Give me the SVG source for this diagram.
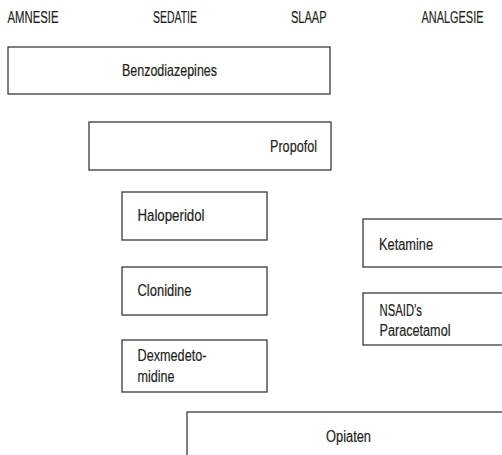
<svg xmlns="http://www.w3.org/2000/svg" width="502" height="455" viewBox="0 0 502 455">
<style>
text{font-family:"Liberation Sans",Arial,sans-serif;font-size:16px;fill:#231f20;stroke:#231f20;stroke-width:0.2}
.box{fill:#fff;stroke:#3a3a3a;stroke-width:1.3}
</style>
<rect width="502" height="455" fill="#fff"/>
<g id="headers">
<text x="7.5" y="22.5" textLength="51" lengthAdjust="spacingAndGlyphs">AMNESIE</text>
<text x="153" y="22.5" textLength="44" lengthAdjust="spacingAndGlyphs">SEDATIE</text>
<text x="291" y="22.5" textLength="35.5" lengthAdjust="spacingAndGlyphs">SLAAP</text>
<text transform="translate(421.5 22.5) scale(0.684 1)" x="0" y="0">ANALGESIE</text>
</g>
<g id="benzodiazepines"><rect class="box" x="8" y="47" width="322" height="47"/><text x="122" y="75.5" textLength="95" lengthAdjust="spacingAndGlyphs">Benzodiazepines</text></g>
<g id="propofol"><rect class="box" x="89" y="122" width="242" height="48"/><text x="270" y="152" textLength="47" lengthAdjust="spacingAndGlyphs">Propofol</text></g>
<g id="haloperidol"><rect class="box" x="122" y="192" width="145" height="48"/><text x="137.5" y="221" textLength="67" lengthAdjust="spacingAndGlyphs">Haloperidol</text></g>
<g id="clonidine"><rect class="box" x="122" y="267" width="145" height="48"/><text x="137.5" y="296" textLength="54" lengthAdjust="spacingAndGlyphs">Clonidine</text></g>
<g id="dexmedetomidine"><rect class="box" x="122" y="340" width="145" height="52"/><text x="137.5" y="361" textLength="69" lengthAdjust="spacingAndGlyphs">Dexmedeto-</text><text x="137.5" y="382" textLength="37" lengthAdjust="spacingAndGlyphs">midine</text></g>
<g id="ketamine"><rect class="box" x="363" y="219" width="145" height="48"/><text x="379" y="250" textLength="54" lengthAdjust="spacingAndGlyphs">Ketamine</text></g>
<g id="nsaids"><rect class="box" x="363" y="293" width="145" height="52"/><text x="379.5" y="315.5" textLength="42.5" lengthAdjust="spacingAndGlyphs">NSAID’s</text><text x="379.5" y="336" textLength="71" lengthAdjust="spacingAndGlyphs">Paracetamol</text></g>
<g id="opiaten"><rect class="box" x="187" y="412" width="330" height="60"/><text x="326" y="442" textLength="45" lengthAdjust="spacingAndGlyphs">Opiaten</text></g>
<g id="connectors"></g>
</svg>
